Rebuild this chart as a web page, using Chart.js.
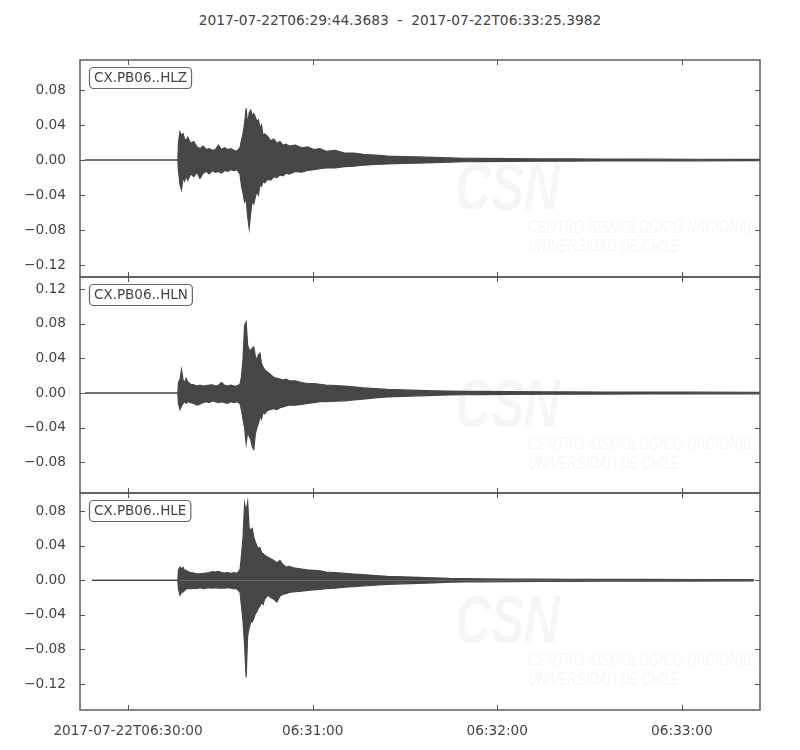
<!DOCTYPE html>
<html>
<head>
<meta charset="utf-8">
<script src="https://cdn.jsdelivr.net/npm/chart.js@4.4.1/dist/chart.umd.min.js"></script>
<style>
body { margin: 0; background: #fff; }
#fig { position: relative; width: 800px; height: 750px; background: #fff; }
#fig canvas { position: absolute; left: 0; }
#title { position: absolute; top: 12px; left: 0; width: 800px; text-align: center;
         font-family: 'DejaVu Sans'; font-size: 13.8px; line-height: 16px; color: #444; white-space: pre; }
</style>
</head>
<body>
<div id="fig">
  <div id="title">2017-07-22T06:29:44.3683  -  2017-07-22T06:33:25.3982</div>
  <canvas id="hlz" width="800" height="294" style="top:0px"></canvas>
  <canvas id="hln" width="800" height="250" style="top:260px"></canvas>
  <canvas id="hle" width="800" height="274" style="top:476px"></canvas>
</div>
<script>
// seconds after trace start (06:29:44.3683), envelope
const seconds = [1.6, 3.9, 31.8,
  32.0, 32.5, 33.0, 33.5, 34.0, 34.5, 35.0,
  36, 37, 38, 39, 40, 41, 42, 43, 44, 45, 46, 47, 48, 49, 50, 51, 52,
  52.5, 53, 53.5, 54, 54.5, 55, 55.5, 56, 56.5, 57, 57.5, 58, 58.5, 59, 59.5, 60,
  61, 62, 63, 64, 65, 66, 67, 68,
  70, 72, 74, 76, 78, 80,
  83, 86, 89, 92,
  96, 100,
  105, 110, 115, 120, 125, 130,
  140, 150, 160, 170,
  185, 200, 219, 221];

const hlzMax = [0, 0, 0,
  0.020, 0.032, 0.028, 0.030, 0.024, 0.022, 0.026,
  0.019, 0.021, 0.015, 0.013, 0.016, 0.012, 0.013, 0.011, 0.012, 0.017, 0.012, 0.014, 0.012, 0.013, 0.011, 0.010, 0.014,
  0.023, 0.030, 0.042, 0.059, 0.040, 0.054, 0.057, 0.050, 0.053, 0.049, 0.044, 0.046, 0.036, 0.040, 0.028, 0.030,
  0.027, 0.022, 0.024, 0.019, 0.021, 0.017, 0.018, 0.016,
  0.017, 0.014, 0.015, 0.012, 0.013, 0.010,
  0.011, 0.008, 0.008, 0.0065,
  0.0055, 0.0045,
  0.004, 0.0035, 0.003, 0.0025, 0.002, 0.0018,
  0.0015, 0.0013, 0.0012, 0.0011,
  0.001, 0.0009, 0.0008, 0.0008];
const hlzMin = [0, 0, 0,
  -0.012, -0.028, -0.034, -0.020, -0.024, -0.018, -0.023,
  -0.016, -0.019, -0.014, -0.021, -0.015, -0.013, -0.016, -0.012, -0.014, -0.013, -0.015, -0.012, -0.013, -0.011, -0.012, -0.011, -0.016,
  -0.030, -0.038, -0.048, -0.044, -0.065, -0.078, -0.060, -0.046, -0.050, -0.042, -0.036, -0.040, -0.028, -0.030, -0.024, -0.026,
  -0.022, -0.023, -0.019, -0.020, -0.017, -0.018, -0.015, -0.016,
  -0.013, -0.014, -0.012, -0.011, -0.010, -0.009,
  -0.009, -0.0075, -0.007, -0.006,
  -0.005, -0.0045,
  -0.004, -0.0035, -0.003, -0.0025, -0.002, -0.0018,
  -0.0015, -0.0013, -0.0012, -0.0011,
  -0.001, -0.0009, -0.0008, -0.0008];

const hlnMax = [0, 0, 0,
  0.012, 0.016, 0.027, 0.015, 0.012, 0.017, 0.013,
  0.010, 0.0095, 0.008, 0.009, 0.008, 0.0085, 0.009, 0.0095, 0.008, 0.009, 0.012, 0.009, 0.008, 0.009, 0.008, 0.008, 0.010,
  0.019, 0.040, 0.078, 0.082, 0.055, 0.050, 0.049, 0.052, 0.053, 0.042, 0.038, 0.044, 0.046, 0.034, 0.030, 0.027,
  0.024, 0.021, 0.018, 0.017, 0.016, 0.015, 0.016, 0.014,
  0.014, 0.012, 0.011, 0.011, 0.010, 0.009,
  0.0085, 0.008, 0.007, 0.006,
  0.005, 0.0042,
  0.0036, 0.003, 0.0025, 0.0022, 0.002, 0.0018,
  0.0016, 0.0014, 0.0013, 0.0012,
  0.0011, 0.001, 0.0009, 0.0009];
const hlnMin = [0, 0, 0,
  -0.012, -0.019, -0.015, -0.012, -0.010, -0.012, -0.010,
  -0.011, -0.012, -0.014, -0.013, -0.011, -0.010, -0.011, -0.009, -0.010, -0.011, -0.010, -0.011, -0.012, -0.010, -0.011, -0.010, -0.012,
  -0.020, -0.031, -0.040, -0.058, -0.045, -0.050, -0.054, -0.062, -0.065, -0.047, -0.040, -0.035, -0.027, -0.030, -0.022, -0.024,
  -0.020, -0.019, -0.018, -0.019, -0.017, -0.016, -0.015, -0.014,
  -0.014, -0.013, -0.012, -0.011, -0.010, -0.010,
  -0.0095, -0.009, -0.008, -0.007,
  -0.0055, -0.0045,
  -0.0038, -0.0032, -0.0027, -0.0023, -0.002, -0.0018,
  -0.0016, -0.0014, -0.0013, -0.0012,
  -0.0011, -0.001, -0.0009, -0.0009];

const hleMax = [null, 0, 0,
  0.012, 0.0154, 0.013, 0.015, 0.011, 0.0116, 0.010,
  0.009, 0.0085, 0.0075, 0.0077, 0.008, 0.0085, 0.009, 0.010, 0.0095, 0.0104, 0.009, 0.0085, 0.009, 0.008, 0.0089, 0.008, 0.012,
  0.029, 0.050, 0.0887, 0.080, 0.0905, 0.060, 0.058, 0.060, 0.050, 0.044, 0.040, 0.0366, 0.038, 0.032, 0.031, 0.029,
  0.027, 0.025, 0.023, 0.020, 0.023, 0.018, 0.0154, 0.016,
  0.014, 0.013, 0.012, 0.0116, 0.011, 0.0096,
  0.009, 0.008, 0.0072, 0.0066,
  0.0055, 0.0046,
  0.004, 0.0035, 0.003, 0.0022, 0.0019, 0.0017,
  0.0015, 0.0013, 0.0012, 0.0011,
  0.001, 0.0009, 0.0008, null];
const hleMin = [null, 0, 0,
  -0.010, -0.0173, -0.014, -0.0135, -0.012, -0.010, -0.0096,
  -0.0096, -0.009, -0.0096, -0.0085, -0.0096, -0.009, -0.0085, -0.009, -0.0085, -0.009, -0.009, -0.009, -0.0085, -0.009, -0.0095, -0.010, -0.0135,
  -0.030, -0.048, -0.075, -0.112, -0.064, -0.055, -0.048, -0.048, -0.044, -0.0385, -0.036, -0.032, -0.030, -0.025, -0.028, -0.022,
  -0.0173, -0.020, -0.022, -0.025, -0.018, -0.016, -0.0154, -0.014,
  -0.013, -0.0125, -0.0116, -0.011, -0.0105, -0.0096,
  -0.009, -0.008, -0.0072, -0.0066,
  -0.0055, -0.0046,
  -0.004, -0.0035, -0.003, -0.0022, -0.0019, -0.0017,
  -0.0015, -0.0013, -0.0012, -0.0011,
  -0.001, -0.0009, -0.0008, null];

const traceLength = 221.03;
const timeTicks = [15.63, 75.63, 135.63, 195.63];
const timeTickLabels = ['2017-07-22T06:30:00', '06:31:00', '06:32:00', '06:33:00'];
const ampTicksZ = [-0.12, -0.08, -0.04, 0, 0.04, 0.08];
const ampTicksN = [-0.08, -0.04, 0, 0.04, 0.08, 0.12];
const ampTicksE = [-0.12, -0.08, -0.04, 0, 0.04, 0.08];

const traceColor = '#464646';
const axisColor = '#555';

Chart.defaults.font.family = 'DejaVu Sans';
Chart.defaults.font.size = 13.7;
Chart.defaults.color = '#444';

// faint CSN logo text behind the traces
const watermark = {
  id: 'watermark',
  beforeDatasetsDraw(chart) {
    const { ctx, chartArea: a } = chart;
    ctx.save();
    ctx.beginPath();
    ctx.rect(a.left, a.top, a.width, a.height);
    ctx.clip();
    ctx.fillStyle = '#f6f6f6';
    const fitText = (txt, font, x, y, w) => {
      ctx.font = font;
      const m = ctx.measureText(txt).width;
      ctx.save();
      ctx.translate(x, y);
      ctx.scale(w / m, 1);
      ctx.fillText(txt, 0, 0);
      ctx.restore();
    };
    fitText('CSN', 'italic bold 68px "Liberation Sans"', a.left + 375, a.top + 150, 105);
    fitText('CENTRO SISMOLÓGICO NACIONAL', 'italic 18px "Liberation Sans"', a.left + 448, a.top + 173, 227);
    fitText('UNIVERSIDAD DE CHILE', 'italic 18px "Liberation Sans"', a.left + 448, a.top + 192, 152);
    ctx.restore();
  }
};

// matplotlib style frame with inward ticks on every side
const frame = {
  id: 'frame',
  afterDraw(chart) {
    const { ctx, chartArea: a, scales: { x, y } } = chart;
    ctx.save();
    ctx.strokeStyle = axisColor;
    ctx.lineWidth = 1;
    ctx.beginPath();
    timeTicks.forEach(v => {
      const px = Math.round(x.getPixelForValue(v)) + 0.5;
      ctx.moveTo(px, a.top); ctx.lineTo(px, a.top + 5);
      ctx.moveTo(px, a.bottom); ctx.lineTo(px, a.bottom - 5);
    });
    y.ticks.forEach(t => {
      const py = Math.round(y.getPixelForValue(t.value)) + 0.5;
      ctx.moveTo(a.left, py); ctx.lineTo(a.left + 5, py);
      ctx.moveTo(a.right, py); ctx.lineTo(a.right - 5, py);
    });
    ctx.stroke();
    ctx.lineWidth = 1.4;
    ctx.strokeRect(a.left, a.top, a.right - a.left, a.bottom - a.top);
    ctx.restore();
  }
};

// rounded station label box in the upper left corner
const stationBox = {
  id: 'stationBox',
  afterDatasetsDraw(chart, args, opts) {
    const { ctx, chartArea: a } = chart;
    ctx.save();
    ctx.font = '13.5px "DejaVu Sans"';
    const w = ctx.measureText(opts.text).width + 9;
    const x0 = a.left + 9.5, y0 = a.top + 7.5, h = 21;
    ctx.beginPath();
    ctx.roundRect(x0, y0, w, h, 4);
    ctx.fillStyle = '#fff';
    ctx.fill();
    ctx.strokeStyle = '#666';
    ctx.lineWidth = 1.2;
    ctx.stroke();
    ctx.fillStyle = '#444';
    ctx.textBaseline = 'middle';
    ctx.fillText(opts.text, x0 + 4.5, y0 + h / 2 + 0.5);
    ctx.restore();
  }
};

const ampLabel = v => (v < -1e-9 ? '\u2212' : '') + Math.abs(v).toFixed(2);

function makeTrace(id, station, hi, lo, yMin, yMax, yTicks, padding, showTime) {
  const pts = arr => seconds.map((t, i) => ({ x: t, y: arr[i] }));
  const style = {
    borderColor: traceColor, backgroundColor: traceColor, borderWidth: 1.2,
    pointRadius: 0, tension: 0, fill: 'origin', spanGaps: false
  };
  return new Chart(document.getElementById(id), {
    type: 'line',
    data: {
      datasets: [
        Object.assign({ label: station + ' max', data: pts(hi) }, style),
        Object.assign({ label: station + ' min', data: pts(lo) }, style)
      ]
    },
    options: {
      responsive: false,
      animation: false,
      events: [],
      layout: { padding: padding },
      plugins: {
        legend: { display: false },
        tooltip: { enabled: false },
        stationBox: { text: station }
      },
      scales: {
        x: {
          type: 'linear',
          min: 0,
          max: traceLength,
          display: showTime,
          grid: { display: false },
          border: { display: false },
          ticks: {
            padding: 5,
            maxRotation: 0,
            autoSkip: false,
            callback: (v, i) => timeTickLabels[i]
          },
          afterBuildTicks: axis => { axis.ticks = timeTicks.map(v => ({ value: v })); },
          afterFit: axis => { axis.height = showTime ? 40 : 0; }
        },
        y: {
          min: yMin,
          max: yMax,
          grid: { display: false },
          border: { display: false },
          ticks: { padding: 6, callback: v => ampLabel(v) },
          afterBuildTicks: axis => { axis.ticks = yTicks.map(v => ({ value: v })); },
          afterFit: axis => { axis.width = 80; }
        }
      }
    },
    plugins: [watermark, stationBox, frame]
  });
}

makeTrace('hlz', 'CX.PB06..HLZ', hlzMax, hlzMin, -0.1337, 0.1143, ampTicksZ,
  { top: 60, bottom: 17, left: 0, right: 40 }, false);
makeTrace('hln', 'CX.PB06..HLN', hlnMax, hlnMin, -0.1153, 0.1338, ampTicksN,
  { top: 17, bottom: 17, left: 0, right: 40 }, false);
makeTrace('hle', 'CX.PB06..HLE', hleMax, hleMin, -0.150, 0.101, ampTicksE,
  { top: 17, bottom: 0, left: 0, right: 40 }, true);
</script>
</body>
</html>
